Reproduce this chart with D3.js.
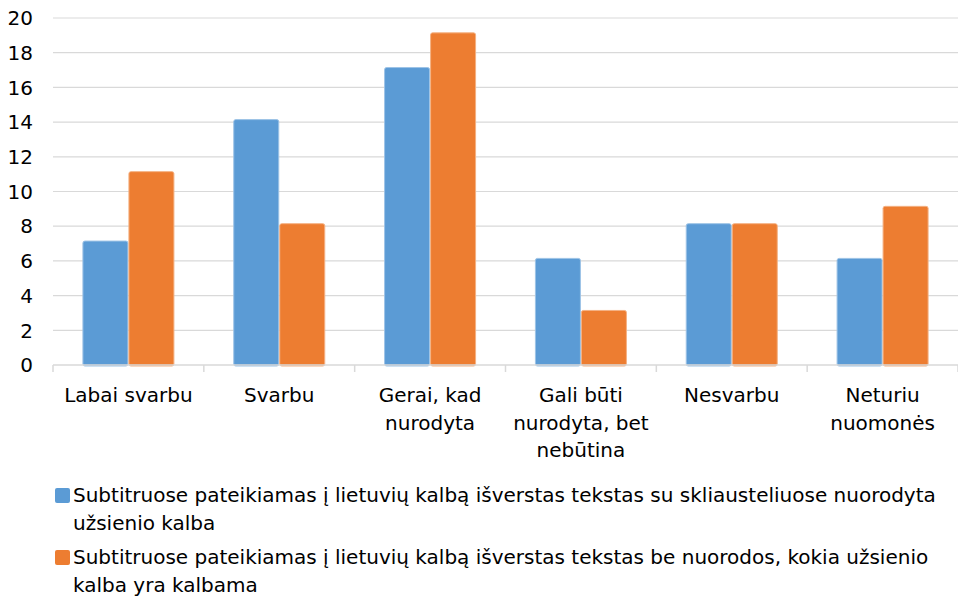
<!DOCTYPE html>
<html>
<head>
<meta charset="utf-8">
<script src="https://cdn.jsdelivr.net/npm/d3@7"></script>
<style>
  body { margin: 0; background: #fff; }
  svg { display: block; font-family: "DejaVu Sans", sans-serif; }
</style>
</head>
<body>
<svg id="chart" width="958" height="597"></svg>
<script>
// Duomenys
const categories = [
    ['Labai svarbu'],
    ['Svarbu'],
    ['Gerai, kad', 'nurodyta'],
    ['Gali būti', 'nurodyta, bet', 'nebūtina'],
    ['Nesvarbu'],
    ['Neturiu', 'nuomonės']
];
const seriesNames = ['su', 'be'];
const seriesWithBrackets = [7, 14, 17, 6, 8, 6];
const seriesWithoutNote = [11, 8, 19, 3, 8, 9];
const yTicks = [0, 2, 4, 6, 8, 10, 12, 14, 16, 18, 20];
const legendLines = [
    ['Subtitruose pateikiamas į lietuvių kalbą išverstas tekstas su skliausteliuose nuorodyta', 'užsienio kalba'],
    ['Subtitruose pateikiamas į lietuvių kalbą išverstas tekstas be nuorodos, kokia užsienio', 'kalba yra kalbama']
];

const colors = ['#5B9BD5', '#ED7D31'];
const edgeColors = ['#9DC3E6', '#F4B183'];

const svg = d3.select('#chart');
const margin = { top: 18, right: 0, bottom: 232, left: 53 };
const width = +svg.attr('width') - margin.left - margin.right;
const plotBottom = 365;

const yScale = d3.scaleLinear()
    .domain([0, 20])
    .range([plotBottom, margin.top]);

const xScale = d3.scaleBand()
    .domain(d3.range(categories.length))
    .range([margin.left, margin.left + width])
    .paddingInner(0.39)
    .paddingOuter(0.195);

const xInner = d3.scaleBand()
    .domain(d3.range(seriesNames.length))
    .range([0, xScale.bandwidth()]);

// Tinklelis
svg.append('g')
    .selectAll('line')
    .data(yTicks.filter(d => d > 0))
    .join('line')
    .attr('x1', margin.left)
    .attr('x2', margin.left + width)
    .attr('y1', d => yScale(d))
    .attr('y2', d => yScale(d))
    .attr('stroke', '#d9d9d9')
    .attr('stroke-width', 1.2);

// Y ašies žymės
svg.append('g')
    .selectAll('text')
    .data(yTicks)
    .join('text')
    .attr('x', 33)
    .attr('y', d => yScale(d))
    .attr('dy', '0.36em')
    .attr('text-anchor', 'end')
    .attr('font-size', 20)
    .attr('fill', '#000')
    .text(d => d);

// Stulpeliai (nedidelis viršaus iškilimas kaip originale)
const bevel = 2.5;
const data = categories.map((c, i) => [seriesWithBrackets[i], seriesWithoutNote[i]]);
const groups = svg.append('g')
    .selectAll('g')
    .data(data)
    .join('g')
    .attr('transform', (d, i) => `translate(${xScale(i)},0)`);

groups.selectAll('rect')
    .data(d => d.map((v, s) => ({ v, s })))
    .join('rect')
    .attr('x', d => xInner(d.s) + 0.5)
    .attr('y', d => yScale(d.v) - bevel)
    .attr('width', xInner.bandwidth() - 1)
    .attr('height', d => plotBottom - yScale(d.v) + bevel + 1)
    .attr('rx', 2)
    .attr('fill', d => colors[d.s])
    .attr('stroke', d => edgeColors[d.s])
    .attr('stroke-width', 1);

// X ašis
const step = width / categories.length;
svg.append('line')
    .attr('x1', margin.left)
    .attr('x2', margin.left + width)
    .attr('y1', plotBottom)
    .attr('y2', plotBottom)
    .attr('stroke', '#d9d9d9')
    .attr('stroke-width', 1.5);

svg.append('g')
    .selectAll('line')
    .data(d3.range(categories.length + 1))
    .join('line')
    .attr('x1', d => margin.left + d * step)
    .attr('x2', d => margin.left + d * step)
    .attr('y1', plotBottom)
    .attr('y2', plotBottom + 7)
    .attr('stroke', '#d9d9d9')
    .attr('stroke-width', 1.5);

const catLabels = svg.append('g')
    .selectAll('text')
    .data(categories)
    .join('text')
    .attr('text-anchor', 'middle')
    .attr('font-size', 20)
    .attr('fill', '#000');

catLabels.selectAll('tspan')
    .data((d, i) => d.map((line, k) => ({ line, k, i })))
    .join('tspan')
    .attr('x', d => xScale(d.i) + xScale.bandwidth() / 2)
    .attr('y', d => 402 + d.k * 27.5)
    .text(d => d.line);

// Legenda
const legend = svg.append('g')
    .selectAll('g')
    .data(legendLines)
    .join('g')
    .attr('transform', (d, i) => `translate(0,${i * 62})`);

legend.append('rect')
    .attr('x', 55)
    .attr('y', 488)
    .attr('width', 15)
    .attr('height', 15)
    .attr('rx', 2)
    .attr('fill', (d, i) => colors[i]);

legend.append('text')
    .attr('font-size', 20)
    .attr('fill', '#000')
    .selectAll('tspan')
    .data(d => d)
    .join('tspan')
    .attr('x', 73)
    .attr('y', (d, k) => 502 + k * 28)
    .text(d => d);
</script>
</body>
</html>
